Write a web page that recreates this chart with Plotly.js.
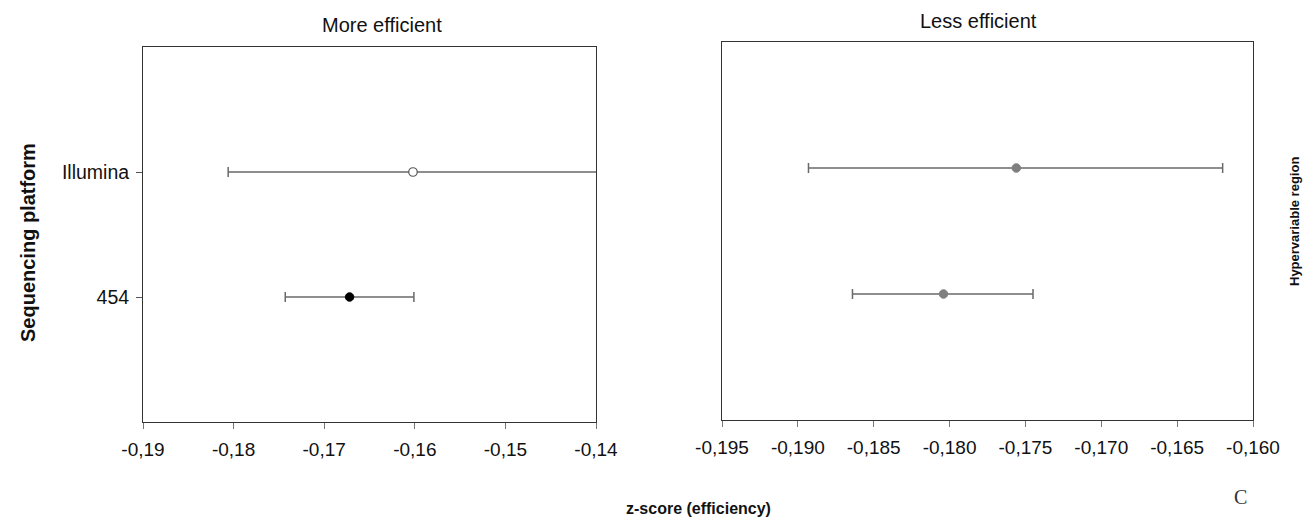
<!DOCTYPE html>
<html>
<head>
<meta charset="utf-8">
<script src="https://cdn.plot.ly/plotly-3.0.1.min.js"></script>
<style>html,body{margin:0;padding:0;background:#fff;}#chart{width:1304px;height:525px;}</style>
</head>
<body>
<div id="chart"></div>
<script>
// Data
const platforms = ['Illumina', '454'];
const categoryOrder = ['454', 'Illumina'];
// "More efficient" panel
const moreMean = [-0.1602, -0.1672];
const moreLow  = [-0.1806, -0.1743];
const moreHigh = [-0.1398, -0.1601];
// "Less efficient" panel
const lessMean = [-0.1756, -0.1804];
const lessLow  = [-0.1893, -0.1864];
const lessHigh = [-0.1620, -0.1745];

// Tick values and labels (comma decimal, hyphen minus as in the reference)
const moreTicks = [-0.19, -0.18, -0.17, -0.16, -0.15, -0.14];
const moreTickLabels = ['-0,19', '-0,18', '-0,17', '-0,16', '-0,15', '-0,14'];
const lessTicks = [-0.195, -0.190, -0.185, -0.180, -0.175, -0.170, -0.165, -0.160];
const lessTickLabels = ['-0,195', '-0,190', '-0,185', '-0,180', '-0,175', '-0,170', '-0,165', '-0,160'];

const panelTitles = ['More efficient', 'Less efficient'];
const xTitle = 'z-score (efficiency)';
const yTitle = 'Sequencing platform';
const sideTitle = 'Hypervariable region';
const panelLetter = 'C';

const barColor = '#6a6a6a';
const moreMarkers = [
  {size: 8.5, color: '#ffffff', line: {color: '#555555', width: 1.2}},
  {size: 8.5, color: '#000000', line: {color: '#000000', width: 1}}
];
const lessMarkers = [
  {size: 8.5, color: '#7f7f7f', line: {color: '#7f7f7f', width: 1}},
  {size: 8.5, color: '#7f7f7f', line: {color: '#7f7f7f', width: 1}}
];

function makeTrace(i, mean, low, high, marker, xa, ya) {
  return {
    type: 'scatter', mode: 'markers',
    x: [mean[i]], y: [platforms[i]],
    xaxis: xa, yaxis: ya,
    marker: marker,
    cliponaxis: false,
    error_x: {
      type: 'data', symmetric: false,
      array: [high[i] - mean[i]], arrayminus: [mean[i] - low[i]],
      color: barColor, thickness: 1.5, width: 5
    },
    hoverinfo: 'x+y', showlegend: false
  };
}

const traces = [];
for (let i = platforms.length - 1; i >= 0; i--) {
  traces.push(makeTrace(i, moreMean, moreLow, moreHigh, moreMarkers[i], 'x', 'y'));
  traces.push(makeTrace(i, lessMean, lessLow, lessHigh, lessMarkers[i], 'x2', 'y2'));
}

const W = 1304, H = 525;
const fx = p => p / W, fy = p => 1 - p / H;
const fam = '"Liberation Sans", Arial, sans-serif';
const font = {family: fam, size: 19, color: '#111'};
const lineCol = '#333333';

const layout = {
  width: W, height: H,
  margin: {l: 0, r: 0, t: 0, b: 0},
  paper_bgcolor: '#fff', plot_bgcolor: '#fff',
  font: font,
  showlegend: false,
  xaxis: {
    domain: [fx(143), fx(596)], anchor: 'y',
    range: [-0.19, -0.14], tickmode: 'array', tickvals: moreTicks, ticktext: moreTickLabels,
    showline: true, linecolor: lineCol, linewidth: 1, mirror: true,
    ticks: 'outside', ticklen: 6, tickcolor: '#777', showgrid: false, zeroline: false,
    ticklabelstandoff: 4,
    tickfont: {family: fam, size: 19, color: '#111'}
  },
  yaxis: {
    domain: [fy(422), fy(47)], anchor: 'x',
    type: 'category', categoryorder: 'array', categoryarray: categoryOrder,
    range: [-1, 2],
    showline: true, linecolor: lineCol, linewidth: 1, mirror: true,
    ticks: 'outside', ticklen: 6, tickcolor: '#555', showgrid: false, zeroline: false,
    ticklabelstandoff: 3,
    tickfont: {family: fam, size: 19.5, color: '#111'}
  },
  xaxis2: {
    domain: [fx(722), fx(1253)], anchor: 'y2',
    range: [-0.195, -0.160], tickmode: 'array', tickvals: lessTicks, ticktext: lessTickLabels,
    showline: true, linecolor: lineCol, linewidth: 1, mirror: true,
    ticks: 'outside', ticklen: 6, tickcolor: '#777', showgrid: false, zeroline: false,
    ticklabelstandoff: 4,
    tickfont: {family: fam, size: 19, color: '#111'}
  },
  yaxis2: {
    domain: [fy(420), fy(42)], anchor: 'x2',
    type: 'category', categoryorder: 'array', categoryarray: categoryOrder,
    range: [-1, 2],
    showline: true, linecolor: lineCol, linewidth: 1, mirror: true,
    ticks: '', showticklabels: false, showgrid: false, zeroline: false
  },
  annotations: [
    {text: panelTitles[0], xref: 'paper', yref: 'paper', x: fx(382), y: fy(25),
     showarrow: false, xanchor: 'center', yanchor: 'middle', font: {family: fam, size: 20, color: '#111'}},
    {text: panelTitles[1], xref: 'paper', yref: 'paper', x: fx(978), y: fy(21),
     showarrow: false, xanchor: 'center', yanchor: 'middle', font: {family: fam, size: 20, color: '#111'}},
    {text: '<b>' + yTitle + '</b>', xref: 'paper', yref: 'paper', x: fx(28), y: fy(243),
     showarrow: false, textangle: -90, xanchor: 'center', yanchor: 'middle', font: {family: fam, size: 20, color: '#111'}},
    {text: '<b>' + xTitle + '</b>', xref: 'paper', yref: 'paper', x: fx(698), y: fy(508),
     showarrow: false, xanchor: 'center', yanchor: 'middle', font: {family: fam, size: 16, color: '#111'}},
    {text: '<b>' + sideTitle + '</b>', xref: 'paper', yref: 'paper', x: fx(1295), y: fy(222),
     showarrow: false, textangle: -90, xanchor: 'center', yanchor: 'middle', font: {family: fam, size: 13, color: '#111'}},
    {text: panelLetter, xref: 'paper', yref: 'paper', x: fx(1240), y: fy(497),
     showarrow: false, xanchor: 'center', yanchor: 'middle',
     font: {family: '"Liberation Serif", "Times New Roman", serif', size: 20, color: '#333'}}
  ]
};

Plotly.newPlot('chart', traces, layout, {displayModeBar: false, staticPlot: true});
</script>
</body>
</html>
